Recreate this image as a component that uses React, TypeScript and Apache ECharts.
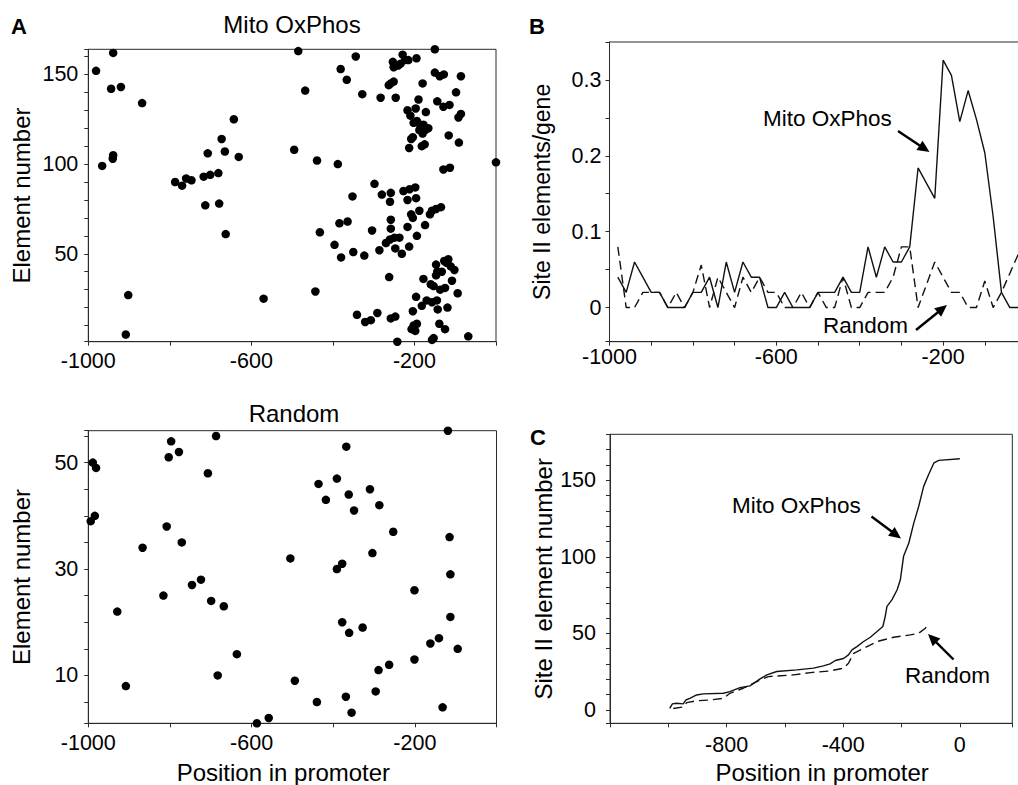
import React, { useEffect, useRef } from "react";
import * as echarts from "echarts";

const FONT = '"Liberation Sans", Arial, Helvetica, sans-serif';
const AXIS_COLOR = "#2a2a2a";
const INK = "#111111";

// Panel A (top) – Mito OxPhos site II elements: [position in promoter, element number]
const mitoScatter: [number, number][] = [
  [-981, 152], [-939, 162], [-944, 142], [-920, 143], [-868, 134], [-966, 99], [-939, 105], [-940, 103],
  [-902, 27], [-908, 5], [-787, 90], [-770, 88], [-760, 92], [-747, 91], [-717, 93], [-701, 94],
  [-681, 95], [-707, 106], [-673, 114], [-665, 107], [-643, 125], [-631, 104], [-713, 77], [-679, 78],
  [-663, 61], [-570, 25], [-495, 108], [-485, 163], [-468, 141], [-443, 29], [-439, 102], [0, 101],
  [-381, 153], [-366, 147], [-344, 160], [-328, 139], [-283, 137], [-246, 137], [-263, 144], [-258, 145],
  [-251, 146], [-253, 157], [-251, 154], [-229, 161], [-223, 158], [-215, 158], [-234, 156], [-240, 155],
  [-195, 159], [-150, 164], [-150, 151], [-138, 149], [-128, 150], [-86, 149], [-180, 145], [-98, 140],
  [-190, 136], [-144, 135], [-129, 132], [-114, 133], [-217, 130], [-210, 127], [-197, 131], [-172, 129],
  [-86, 128], [-92, 126], [-202, 123], [-194, 124], [-186, 122], [-178, 122], [-188, 119], [-174, 119],
  [-166, 120], [-180, 117], [-208, 114], [-204, 115], [-213, 109], [-182, 110], [-175, 111], [-116, 116],
  [-91, 112], [-129, 97], [-113, 98], [-388, 100], [-298, 89],
  [-352, 82], [-280, 83], [-258, 84], [-260, 79], [-227, 85], [-212, 86], [-198, 87], [-217, 80],
  [-196, 81], [-188, 74], [-208, 72], [-204, 70], [-157, 74], [-147, 75], [-135, 76], [-162, 72],
  [-174, 66], [-217, 65], [-194, 60], [-258, 69], [-258, 64], [-270, 56], [-260, 58], [-249, 59],
  [-237, 59], [-247, 53], [-286, 52], [-231, 50], [-213, 54], [-304, 63], [-384, 67], [-364, 68],
  [-432, 62], [-396, 55], [-380, 48], [-350, 51], [-323, 49], [-262, 37],
  [-147, 44], [-127, 46], [-117, 47], [-121, 45], [-111, 43], [-102, 41], [-144, 40], [-133, 40],
  [-147, 38], [-108, 35], [-178, 36], [-160, 33], [-153, 32], [-137, 30], [-125, 31], [-94, 28],
  [-196, 26], [-170, 24], [-157, 23], [-145, 24], [-182, 21], [-143, 19], [-119, 20], [-204, 18],
  [-341, 16], [-321, 12], [-307, 13], [-291, 17], [-258, 14], [-247, 15], [-202, 10], [-194, 11],
  [-207, 8], [-198, 7], [-139, 11], [-125, 8], [-68, 4], [-153, 3], [-157, 2], [-242, 1],
];

// Panel A (bottom) – Random sequences: [position in promoter, element number]
const randomScatter: [number, number][] = [
  [-119, 56], [-687, 55], [-797, 54], [-368, 53], [-778, 52], [-803, 51], [-989, 50], [-981, 49],
  [-707, 48], [-391, 47], [-436, 46], [-310, 45], [-362, 44], [-418, 43], [-287, 42], [-349, 41],
  [-984, 40], [-994, 39], [-808, 38], [-253, 37], [-115, 36], [-771, 35], [-867, 34], [-304, 33],
  [-505, 32], [-378, 31], [-391, 30], [-113, 29], [-724, 28], [-746, 27], [-201, 26], [-816, 25],
  [-699, 24], [-668, 23], [-929, 22], [-113, 21], [-378, 20], [-328, 19], [-361, 18], [-141, 17],
  [-162, 16], [-95, 15], [-636, 14], [-201, 13], [-263, 12], [-289, 11], [-683, 10], [-494, 9],
  [-908, 8], [-296, 7], [-369, 6], [-440, 5], [-132, 4], [-355, 3], [-558, 2], [-587, 1],
];

// Panel B – element density per 20-bp window
const densityPositions = [
  -980, -960, -940, -920, -900, -880, -860, -840, -820, -800, -780, -760, -740, -720, -700, -680, -660,
  -640, -620, -600, -580, -560, -540, -520, -500, -480, -460, -440, -420, -400, -380, -360, -340, -320,
  -300, -280, -260, -240, -220, -200, -180, -160, -140, -120, -100, -80, -60, -40, -20,
];
const mitoDensity = [
  0.04, 0.02, 0.06, 0.04, 0.02, 0.02, 0, 0, 0, 0.02, 0.02, 0.04, 0, 0.06, 0.02, 0.06, 0.04,
  0.04, 0, 0, 0.02, 0, 0, 0, 0.02, 0.02, 0.02, 0.04, 0.02, 0.02, 0.08, 0.04, 0.08, 0.06,
  0.06, 0.08, 0.184, 0.164, 0.144, 0.326, 0.306, 0.245, 0.286, 0.248, 0.204, 0.12, 0.02, 0, 0,
];
const randomDensity = [
  0.08, 0, 0, 0.02, 0.02, 0.02, 0, 0.02, 0, 0.02, 0.056, 0, 0.04, 0.02, 0, 0.04, 0.02,
  0.04, 0.02, 0.02, 0, 0, 0.02, 0, 0.02, 0, 0, 0.04, 0, 0, 0.02, 0.02, 0.02, 0.04,
  0.08, 0.08, 0, 0.03, 0.06, 0.04, 0.02, 0.02, 0, 0, 0.035, 0, 0.02, 0.045, 0.07,
];

// Panel C – cumulative element number: [position, count]
const mitoCumulative: [number, number][] = [
  [-995, 1], [-986, 4], [-972, 4.4], [-949, 4], [-940, 6.5], [-926, 7.6], [-903, 9.8], [-880, 10.5],
  [-811, 10.9], [-789, 12], [-754, 14.6], [-720, 15.7], [-691, 19.6], [-662, 22.9], [-628, 25.1],
  [-559, 26.2], [-502, 27.3], [-468, 28.8], [-445, 30.1], [-427, 32.3], [-399, 33.6], [-382, 36],
  [-370, 39.2], [-353, 41.4], [-330, 44.7], [-307, 47.5], [-284, 51.2], [-264, 54.5], [-256, 61],
  [-250, 67.6], [-233, 71.9], [-215, 78.5], [-204, 85], [-193, 100.3], [-175, 109], [-158, 122],
  [-141, 133], [-124, 146], [-107, 153.7], [-89, 161.3], [-72, 163], [0, 164],
];
const randomCumulative: [number, number][] = [
  [-983, 1], [-949, 2], [-937, 4.8], [-903, 6], [-857, 6.5], [-811, 7.6], [-789, 10.9], [-743, 14.2],
  [-685, 19.6], [-657, 21.8], [-571, 22.9], [-513, 24.4], [-445, 25.5], [-399, 27.3], [-382, 30.5],
  [-364, 37], [-330, 40.3], [-284, 44.7], [-227, 47.5], [-170, 49], [-141, 50.1], [-118, 53.4],
  [-112, 55.6],
];

// Tick labels shown
const scatterXLabels = [-1000, -600, -200];
const mitoYLabels = [50, 100, 150];
const randomYLabels = [10, 30, 50];
const densityXLabels = [-1000, -600, -200];
const densityYLabels = [0, 0.1, 0.2, 0.3];
const cumXLabels = [-800, -400, 0];
const cumYLabels = [0, 50, 100, 150];

const pick = (labels: number[]) => (value: number) => {
  const hit = labels.find((l) => Math.abs(l - value) < 1e-6);
  return hit === undefined ? "" : String(hit);
};

const baseAxis = (gridIndex: number, labels: number[], margin: number) => ({
  gridIndex,
  type: "value",
  axisLine: { show: true, onZero: false, lineStyle: { color: AXIS_COLOR, width: 1 } },
  axisTick: { show: true, inside: false, length: 4, lineStyle: { color: AXIS_COLOR, width: 1 } },
  splitLine: { show: false },
  minorTick: { show: false },
  axisLabel: {
    color: "#000",
    fontSize: 21.5,
    fontFamily: FONT,
    margin,
    hideOverlap: false,
    showMinLabel: true,
    showMaxLabel: true,
    formatter: pick(labels),
  },
  nameTextStyle: { color: "#000", fontSize: 24, fontFamily: FONT },
});

function arrow(x1: number, y1: number, x2: number, y2: number) {
  const dx = x2 - x1;
  const dy = y2 - y1;
  const len = Math.hypot(dx, dy);
  const ux = dx / len;
  const uy = dy / len;
  const hl = 12;
  const hw = 5.5;
  const bx = x2 - ux * hl;
  const by = y2 - uy * hl;
  return [
    { type: "line", shape: { x1, y1, x2: bx + ux * 2, y2: by + uy * 2 }, style: { stroke: "#000", lineWidth: 2.4 } },
    {
      type: "polygon",
      shape: { points: [[x2, y2], [bx - uy * hw, by + ux * hw], [bx + uy * hw, by - ux * hw]] },
      style: { fill: "#000" },
    },
  ];
}

function label(x: number, y: number, text: string, size: number, align = "left", bold = false) {
  return {
    type: "text",
    x,
    y,
    style: {
      text,
      fontSize: size,
      fontFamily: FONT,
      fontWeight: bold ? "bold" : "normal",
      fill: "#000",
      align,
      verticalAlign: "middle",
    },
  };
}

const gridBase = { show: true, borderColor: AXIS_COLOR, borderWidth: 1, containLabel: false, outerBoundsMode: "none" };

const option = {
  animation: false,
  backgroundColor: "#ffffff",
  textStyle: { fontFamily: FONT },
  grid: [
    { ...gridBase, left: 88.3, top: 49.3, width: 407.7, height: 292.4 },
    { ...gridBase, left: 88.3, top: 430.7, width: 408.2, height: 292.6 },
    { ...gridBase, left: 609.5, top: 42, width: 417, height: 299.7 },
    { ...gridBase, left: 610, top: 434.3, width: 402.3, height: 289 },
  ],
  xAxis: [
    { ...baseAxis(0, scatterXLabels, 8), min: -1000, max: 0, interval: 200 },
    {
      ...baseAxis(1, scatterXLabels, 9),
      min: -1000,
      max: 0,
      interval: 200,
      name: "Position in promoter",
      nameLocation: "middle",
      nameGap: 37,
      nameTextStyle: { color: "#000", fontSize: 24, fontFamily: FONT, padding: [0, 18, 0, 0] },
    },
    { ...baseAxis(2, densityXLabels, 4), min: -1000, max: 0, interval: 100 },
    {
      ...baseAxis(3, cumXLabels, 10.5),
      min: -1200,
      max: 180,
      interval: 200,
      name: "Position in promoter",
      nameLocation: "middle",
      nameGap: 37,
      nameTextStyle: { color: "#000", fontSize: 24, fontFamily: FONT, padding: [0, 0, 0, 22] },
    },
  ],
  yAxis: [
    {
      ...baseAxis(0, mitoYLabels, 10),
      min: 1,
      max: 164,
      minInterval: 10,
      maxInterval: 10,
      name: "Element number",
      nameLocation: "middle",
      nameGap: 55,
    },
    {
      ...baseAxis(1, randomYLabels, 10),
      min: 1,
      max: 56,
      minInterval: 5,
      maxInterval: 5,
      name: "Element number",
      nameLocation: "middle",
      nameGap: 55,
    },
    {
      ...baseAxis(2, densityYLabels, 8),
      min: -0.045,
      max: 0.35,
      minInterval: 0.05,
      maxInterval: 0.05,
      name: "Site II elements/gene",
      nameLocation: "middle",
      nameGap: 56,
      nameTextStyle: { color: "#000", fontSize: 23, fontFamily: FONT },
    },
    {
      ...baseAxis(3, cumYLabels, 14),
      min: -8.7,
      max: 180,
      minInterval: 10,
      maxInterval: 10,
      name: "Site II element number",
      nameLocation: "middle",
      nameGap: 55,
    },
  ],
  series: [
    {
      name: "Mito OxPhos",
      type: "scatter",
      xAxisIndex: 0,
      yAxisIndex: 0,
      data: mitoScatter,
      symbol: "circle",
      symbolSize: 8.5,
      itemStyle: { color: "#000", opacity: 1 },
      clip: false,
    },
    {
      name: "Random",
      type: "scatter",
      xAxisIndex: 1,
      yAxisIndex: 1,
      data: randomScatter,
      symbol: "circle",
      symbolSize: 8.5,
      itemStyle: { color: "#000", opacity: 1 },
      clip: false,
    },
    {
      name: "Mito OxPhos density",
      type: "line",
      xAxisIndex: 2,
      yAxisIndex: 2,
      data: densityPositions.map((p, i) => [p, mitoDensity[i]]),
      symbol: "none",
      showSymbol: false,
      lineStyle: { color: INK, width: 1.4, type: "solid" },
    },
    {
      name: "Random density",
      type: "line",
      xAxisIndex: 2,
      yAxisIndex: 2,
      data: densityPositions.map((p, i) => [p, randomDensity[i]]),
      symbol: "none",
      showSymbol: false,
      lineStyle: { color: INK, width: 1.4, type: [9, 5] },
    },
    {
      name: "Mito OxPhos cumulative",
      type: "line",
      xAxisIndex: 3,
      yAxisIndex: 3,
      data: mitoCumulative,
      symbol: "none",
      showSymbol: false,
      lineStyle: { color: INK, width: 1.4, type: "solid" },
    },
    {
      name: "Random cumulative",
      type: "line",
      xAxisIndex: 3,
      yAxisIndex: 3,
      data: randomCumulative,
      symbol: "none",
      showSymbol: false,
      lineStyle: { color: INK, width: 1.4, type: [9, 5] },
    },
  ],
  graphic: {
    elements: [
      label(292, 24.5, "Mito OxPhos", 24, "center"),
      label(294, 413, "Random", 24, "center"),
      label(11, 26, "A", 22, "left", true),
      label(529, 26, "B", 22, "left", true),
      label(530, 437, "C", 22, "left", true),
      label(763, 118, "Mito OxPhos", 22.5),
      label(823, 325.5, "Random", 22.5),
      label(732, 505, "Mito OxPhos", 22.5),
      label(905, 675, "Random", 22.5),
      ...arrow(898, 131, 929.5, 152),
      ...arrow(916, 330, 947, 305),
      ...arrow(871.5, 516.5, 901, 538.5),
      ...arrow(953.5, 659.5, 928, 634),
    ],
  },
};

export default function App() {
  const ref = useRef<HTMLDivElement>(null);
  useEffect(() => {
    if (!ref.current) return;
    const chart = echarts.init(ref.current, null, { renderer: "svg" });
    chart.setOption(option as any);
    return () => {
      chart.dispose();
    };
  }, []);
  return (
    <div
      ref={ref}
      style={{ position: "absolute", left: 0, top: 0, width: 1018, height: 785, background: "#fff", overflow: "hidden" }}
    />
  );
}
